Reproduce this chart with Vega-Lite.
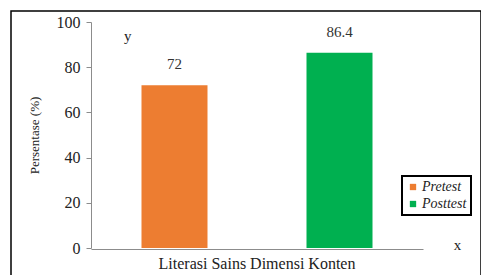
{
  "$schema": "https://vega.github.io/schema/vega-lite/v6.json",
  "width": 470,
  "height": 265,
  "autosize": {"type": "none"},
  "padding": {"left": 11, "top": 11, "right": 0, "bottom": 0},
  "background": "white",
  "title": {"text": "y", "anchor": "start", "frame": "group", "dx": 113, "dy": 37, "fontSize": 15, "font": "Liberation Serif", "fontWeight": "normal", "color": "#222222"},
  "config": {
    "view": {"stroke": "black", "strokeWidth": 1.5},
    "font": "Liberation Serif",
    "axis": {"labelFont": "Liberation Serif", "titleFont": "Liberation Serif"},
    "legend": {"labelFont": "Liberation Serif", "strokeWidth": 2},
    "text": {"font": "Liberation Serif"}
  },
  "data": {
    "values": [
      {"kategori": "Literasi Sains Dimensi Konten", "tes": "Pretest", "persentase": 72},
      {"kategori": "Literasi Sains Dimensi Konten", "tes": "Posttest", "persentase": 86.4}
    ]
  },
  "encoding": {
    "x": {
      "field": "kategori", "type": "nominal",
      "scale": {"range": [80, 412], "paddingInner": 0, "paddingOuter": 0},
      "axis": {
        "orient": "bottom", "offset": -27, "ticks": false, "labelAngle": 0, "labelLimit": 0,
        "labelFont": "Liberation Serif", "titleFont": "Liberation Serif",
        "labelFontSize": 16, "labelPadding": 6, "labelColor": "#222222",
        "domainColor": "#8c8c8c", "domainWidth": 1,
        "title": "x", "titleFontWeight": "normal", "titleFontSize": 15, "titleColor": "#222222",
        "titleX": 446, "titleY": -5, "titleBaseline": "middle", "titleAlign": "center"
      }
    },
    "xOffset": {"field": "tes", "type": "nominal", "sort": ["Pretest", "Posttest"], "scale": {"paddingInner": 0.6, "paddingOuter": 0.306}},
    "y": {
      "field": "persentase", "type": "quantitative",
      "scale": {"domain": [0, 100], "range": [237, 11]},
      "axis": {
        "orient": "left", "offset": -80, "grid": false, "values": [0, 20, 40, 60, 80, 100],
        "labelFont": "Liberation Serif", "titleFont": "Liberation Serif",
        "tickSize": 5, "labelPadding": 6, "labelFontSize": 16, "labelColor": "#222222",
        "tickColor": "#8c8c8c", "domainColor": "#8c8c8c",
        "title": "Persentase (%)", "titleFontSize": 13, "titleFontWeight": "normal", "titleColor": "#222222", "titlePadding": 15
      }
    }
  },
  "layer": [
    {
      "mark": {"type": "bar"},
      "encoding": {
        "color": {
          "field": "tes", "type": "nominal", "sort": ["Pretest", "Posttest"],
          "scale": {"domain": ["Pretest", "Posttest"], "range": ["#ED7D31", "#00B050"]},
          "legend": {
            "orient": "none", "legendX": 391, "legendY": 165, "title": null,
            "symbolType": "square", "symbolSize": 40, "symbolStrokeWidth": 0,
            "labelFont": "Liberation Serif",
            "labelFontSize": 14, "labelFontStyle": "italic", "labelColor": "#222222", "labelOffset": 2,
            "rowPadding": 3, "padding": 4, "strokeColor": "black", "fillColor": "white"
          }
        }
      }
    },
    {
      "mark": {"type": "text", "baseline": "bottom", "dy": -13, "fontSize": 15, "color": "#333333", "font": "Liberation Serif"},
      "encoding": {"text": {"field": "persentase", "type": "quantitative"}}
    }
  ]
}
